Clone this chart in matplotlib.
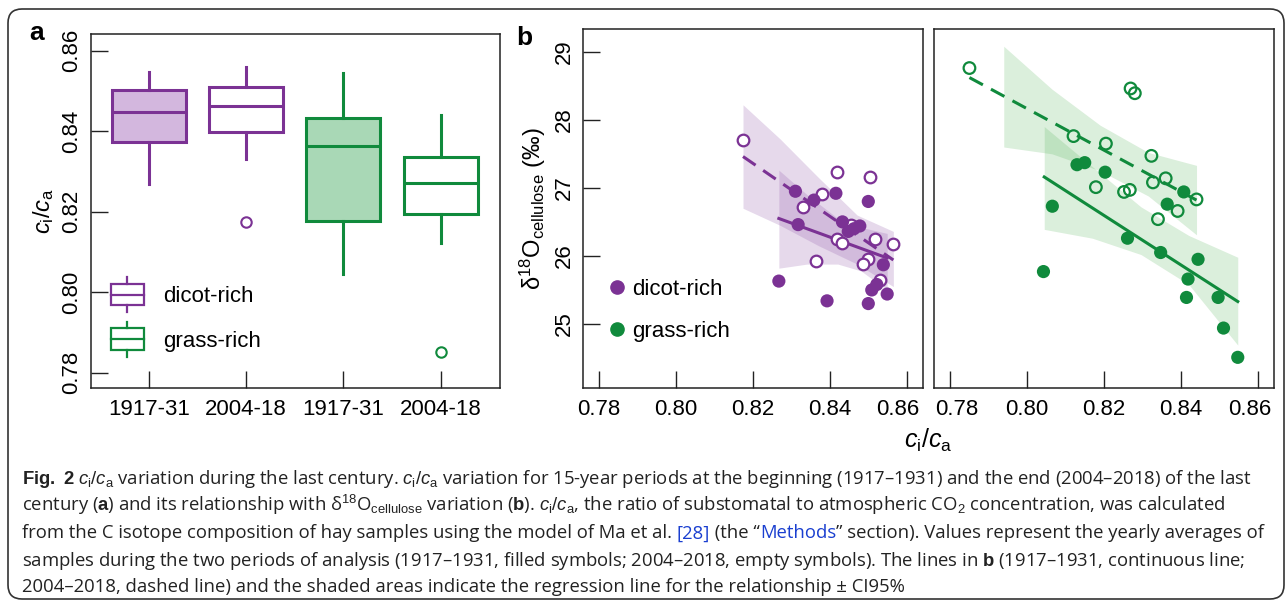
import matplotlib
matplotlib.use('Agg')
import matplotlib.pyplot as plt
from matplotlib.patches import Rectangle, FancyBboxPatch
from matplotlib.lines import Line2D
from matplotlib.legend_handler import HandlerBase
from matplotlib.transforms import IdentityTransform, ScaledTranslation

plt.rcParams['font.family'] = ['Liberation Sans', 'DejaVu Sans']
plt.rcParams['mathtext.fontset'] = 'custom'
plt.rcParams['mathtext.rm'] = 'Liberation Sans'
plt.rcParams['mathtext.it'] = 'Liberation Sans:italic'
plt.rcParams['mathtext.bf'] = 'Liberation Sans:bold'

PURPLE = '#7b3294'
GREEN = '#108a3c'
PURPLE_FILL = '#d3b7de'
GREEN_FILL = '#a9d8b6'
PURPLE_BAND = '#8e52a8'
GREEN_BAND = '#4caf50'
CAP_FONT = ['Open Sans', 'DejaVu Sans']
CAP_SIZE = 13.35

# ---- panel a: box statistics
periods = ['1917-31', '2004-18', '1917-31', '2004-18']
groups = ['dicot', 'dicot', 'grass', 'grass']
filled = [True, False, True, False]
whis_lo = [0.8268, 0.8330, 0.8044, 0.8122]
q1 = [0.8372, 0.8397, 0.8177, 0.8194]
med = [0.8447, 0.8462, 0.8364, 0.8271]
q3 = [0.8502, 0.8509, 0.8432, 0.8336]
whis_hi = [0.8546, 0.8560, 0.8545, 0.8439]
outliers = [[], [0.8174], [], [0.7851]]

# ---- panel b: yearly means (filled = 1917-31, open = 2004-18)
dicot_old_x = [0.8310, 0.8358, 0.8415, 0.8499, 0.8317, 0.8432, 0.8447, 0.8462, 0.8477, 0.8538,
               0.8267, 0.8392, 0.8499, 0.8508, 0.8521, 0.8548]
dicot_old_y = [26.95, 26.82, 26.92, 26.80, 26.46, 26.50, 26.36, 26.40, 26.44, 25.87,
               25.63, 25.34, 25.30, 25.50, 25.58, 25.44]
dicot_new_x = [0.8174, 0.8419, 0.8503, 0.8380, 0.8330, 0.8417, 0.8431, 0.8516, 0.8564, 0.8363,
               0.8499, 0.8486, 0.8529, 0.8455]
dicot_new_y = [27.70, 27.24, 27.16, 26.91, 26.72, 26.25, 26.19, 26.25, 26.17, 25.93,
               25.96, 25.88, 25.64, 26.45]
grass_old_x = [0.8130, 0.8150, 0.8203, 0.8407, 0.8364, 0.8066, 0.8261, 0.8347, 0.8444, 0.8418,
               0.8414, 0.8496, 0.8510, 0.8547, 0.8043]
grass_old_y = [27.34, 27.37, 27.23, 26.94, 26.76, 26.73, 26.26, 26.05, 25.95, 25.66,
               25.39, 25.39, 24.94, 24.51, 25.77]
grass_new_x = [0.7851, 0.8269, 0.8280, 0.8121, 0.8205, 0.8323, 0.8360, 0.8327, 0.8179, 0.8252,
               0.8267, 0.8440, 0.8391, 0.8340]
grass_new_y = [28.76, 28.46, 28.39, 27.76, 27.65, 27.47, 27.14, 27.08, 27.01, 26.94,
               26.97, 26.83, 26.66, 26.54]

# regression lines (end points) and CI95 bands
dicot_old_fit_x = [0.8267, 0.8548]
dicot_old_fit_y = [26.55, 25.97]
dicot_new_fit_x = [0.8174, 0.8564]
dicot_new_fit_y = [27.46, 25.94]
grass_old_fit_x = [0.8045, 0.8547]
grass_old_fit_y = [27.16, 25.33]
grass_new_fit_x = [0.7851, 0.8440]
grass_new_fit_y = [28.62, 26.82]

dicot_old_band_x = [0.8267, 0.834, 0.842, 0.848, 0.8548]
dicot_old_band_hi = [27.26, 26.90, 26.55, 26.42, 26.33]
dicot_old_band_lo = [25.82, 25.88, 25.88, 25.78, 25.50]
dicot_new_band_x = [0.8174, 0.827, 0.837, 0.847, 0.8564]
dicot_new_band_hi = [28.22, 27.72, 27.15, 26.60, 26.36]
dicot_new_band_lo = [26.70, 26.45, 26.15, 25.88, 25.55]
grass_old_band_x = [0.8045, 0.817, 0.8296, 0.842, 0.8547]
grass_old_band_hi = [27.90, 27.31, 26.72, 26.30, 25.98]
grass_old_band_lo = [26.39, 26.26, 26.02, 25.58, 24.69]
grass_new_band_x = [0.7940, 0.8065, 0.819, 0.8315, 0.8440]
grass_new_band_hi = [29.08, 28.45, 27.92, 27.52, 27.33]
grass_new_band_lo = [27.60, 27.50, 27.25, 26.88, 26.31]

caption = [
    r'$\mathbf{Fig.\ 2}$ $c_\mathrm{i}/c_\mathrm{a}$ variation during the last century. $c_\mathrm{i}/c_\mathrm{a}$ '
    r'variation for 15-year periods at the beginning (1917–1931) and the end (2004–2018) of the last',
    r'century ($\mathbf{a}$) and its relationship with δ$^{18}$O$_\mathrm{cellulose}$ variation ($\mathbf{b}$). '
    r'$c_\mathrm{i}/c_\mathrm{a}$, the ratio of substomatal to atmospheric CO$_2$ concentration, was calculated',
    None,
    'samples during the two periods of analysis (1917–1931, filled symbols; 2004–2018, empty symbols). '
    r'The lines in $\mathbf{b}$ (1917–1931, continuous line;',
    '2004–2018, dashed line) and the shaded areas indicate the regression line for the relationship ± CI95%',
]
caption_line3 = [('from the C isotope composition of hay samples using the model of Ma et al. ', '#222222'),
                 ('[28]', '#1a3fd0'), (' (the “', '#222222'), ('Methods', '#1a3fd0'),
                 ('” section). Values represent the yearly averages of', '#222222')]


class BoxHandler(HandlerBase):
    def create_artists(self, legend, orig_handle, xdescent, ydescent, width, height, fontsize, trans):
        col = orig_handle.get_edgecolor()
        x0 = -xdescent
        y0 = -ydescent - 0.05 * height
        h = 1.1 * height
        cx = x0 + width / 2
        box = Rectangle((x0, y0), width, h, facecolor='white', edgecolor=col, lw=1.6, transform=trans)
        m = Line2D([x0, x0 + width], [y0 + h / 2] * 2, color=col, lw=1.6, transform=trans)
        w1 = Line2D([cx, cx], [y0 + h, y0 + h + 0.33 * height], color=col, lw=1.6, transform=trans)
        w2 = Line2D([cx, cx], [y0, y0 - 0.33 * height], color=col, lw=1.6, transform=trans)
        return [box, m, w1, w2]


fig = plt.figure(figsize=(12.87, 6.03), dpi=100)

# ---------------- panel a
axa = fig.add_axes([0.0705, 0.3566, 0.3180, 0.5870])
for i in range(len(periods)):
    col = PURPLE if groups[i] == 'dicot' else GREEN
    fc = (PURPLE_FILL if groups[i] == 'dicot' else GREEN_FILL) if filled[i] else 'white'
    st = dict(med=med[i], q1=q1[i], q3=q3[i], whislo=whis_lo[i], whishi=whis_hi[i], fliers=outliers[i])
    axa.bxp([st], positions=[i + 1], widths=0.76, showcaps=False, patch_artist=True,
            boxprops=dict(facecolor=fc, edgecolor=col, linewidth=2.2),
            medianprops=dict(color=col, linewidth=2.2),
            whiskerprops=dict(color=col, linewidth=2.2),
            flierprops=dict(marker='o', markerfacecolor='none', markeredgecolor=col,
                            markersize=7.5, markeredgewidth=1.5))
axa.set_xlim(0.403, 4.61)
axa.set_ylim(0.7762, 0.8641)
axa.set_xticks(range(1, 5))
axa.set_xticklabels(periods)
axa.set_yticks([0.78, 0.80, 0.82, 0.84, 0.86])
axa.set_yticklabels(['0.78', '0.80', '0.82', '0.84', '0.86'])
axa.set_ylabel(r'$c_\mathrm{i}/c_\mathrm{a}$', fontsize=17, labelpad=4)
axa.legend([Rectangle((0, 0), 1, 1, edgecolor=PURPLE), Rectangle((0, 0), 1, 1, edgecolor=GREEN)],
           ['dicot-rich', 'grass-rich'], handler_map={Rectangle: BoxHandler()},
           loc='upper left', bbox_to_anchor=(0.049, 0.292), frameon=False, fontsize=16,
           handlelength=1.5, handleheight=1.0, handletextpad=0.85, labelspacing=1.0,
           borderpad=0, borderaxespad=0)

# ---------------- panel b
axb1 = fig.add_axes([0.4530, 0.3566, 0.2642, 0.5949])
axb2 = fig.add_axes([0.7257, 0.3566, 0.2642, 0.5949])

axb1.fill_between(dicot_old_band_x, dicot_old_band_lo, dicot_old_band_hi, color=PURPLE_BAND, alpha=0.22, lw=0)
axb1.fill_between(dicot_new_band_x, dicot_new_band_lo, dicot_new_band_hi, color=PURPLE_BAND, alpha=0.22, lw=0)
axb1.plot(dicot_old_fit_x, dicot_old_fit_y, color=PURPLE, lw=2.2)
axb1.plot(dicot_new_fit_x, dicot_new_fit_y, color=PURPLE, lw=2.2, ls=(0, (5, 3)))
axb1.scatter(dicot_new_x, dicot_new_y, s=70, facecolors='white', edgecolors=PURPLE, linewidths=1.6, zorder=3)
axb1.scatter(dicot_old_x, dicot_old_y, s=90, c=PURPLE, edgecolors='none', zorder=4)

axb2.fill_between(grass_old_band_x, grass_old_band_lo, grass_old_band_hi, color=GREEN_BAND, alpha=0.2, lw=0)
axb2.fill_between(grass_new_band_x, grass_new_band_lo, grass_new_band_hi, color=GREEN_BAND, alpha=0.2, lw=0)
axb2.plot(grass_old_fit_x, grass_old_fit_y, color=GREEN, lw=2.2)
axb2.plot(grass_new_fit_x, grass_new_fit_y, color=GREEN, lw=2.2, ls=(0, (5, 3)))
axb2.scatter(grass_new_x, grass_new_y, s=70, facecolors='none', edgecolors=GREEN, linewidths=1.6, zorder=3)
axb2.scatter(grass_old_x, grass_old_y, s=90, c=GREEN, edgecolors='none', zorder=4)

for ax in (axb1, axb2):
    ax.set_xlim(0.7759, 0.8641)
    ax.set_ylim(24.06, 29.33)
    ax.set_xticks([0.78, 0.80, 0.82, 0.84, 0.86])
    ax.set_xticklabels(['0.78', '0.80', '0.82', '0.84', '0.86'])
axb1.set_yticks([25, 26, 27, 28, 29])
axb2.set_yticks([])
axb1.set_ylabel(r'δ$^{18}$O$_\mathrm{cellulose}$ (‰)', fontsize=17, labelpad=4)
axb1.legend([Line2D([], [], marker='o', ls='none', color=PURPLE, markersize=9.5),
             Line2D([], [], marker='o', ls='none', color=GREEN, markersize=9.5)],
            ['dicot-rich', 'grass-rich'], loc='upper left', bbox_to_anchor=(0.0735, 0.305),
            frameon=False, fontsize=16, handlelength=0.8, handletextpad=0.3, labelspacing=0.97,
            borderpad=0, borderaxespad=0)

for ax in (axa, axb1, axb2):
    ax.tick_params(direction='in', length=12.5, width=1.0, labelsize=16, color='#222222')
    ax.tick_params(axis='x', pad=8)
    ax.tick_params(axis='y', pad=6)
    for t in ax.get_yticklabels():
        t.set_rotation(90)
        t.set_va('center')
    for sp in ax.spines.values():
        sp.set_linewidth(1.1)
        sp.set_color('#222222')

# the labels next to the gap between the two b panels are nudged apart, as in the figure
for lab, dx in [(axb1.get_xticklabels()[-1], -9), (axb2.get_xticklabels()[0], 7), (axb2.get_xticklabels()[-1], -8)]:
    lab.set_transform(lab.get_transform() + ScaledTranslation(dx / 100, 0, fig.dpi_scale_trans))

fig.text(0.7215, 0.27, r'$c_\mathrm{i}/c_\mathrm{a}$', fontsize=18, ha='center', va='center')
fig.text(0.0285, 0.945, 'a', fontsize=19, fontweight='bold', ha='center', va='center')
fig.text(0.4075, 0.937, 'b', fontsize=19, fontweight='bold', ha='center', va='center')

# ---------------- caption
cap_y = [0.197, 0.152, 0.107, 0.062, 0.018]
for y, line in zip(cap_y, caption):
    if line is None:
        continue
    fig.text(0.0171, y, line, fontsize=CAP_SIZE, family=CAP_FONT, color='#222222', va='baseline')
first = fig.text(0.0171, cap_y[2], caption_line3[0][0], fontsize=CAP_SIZE, family=CAP_FONT,
                 color=caption_line3[0][1], va='baseline')
pieces = []
for piece, col in caption_line3[1:]:
    t = fig.text(0, 0, piece, fontsize=CAP_SIZE, family=CAP_FONT, color=col, va='baseline',
                 transform=IdentityTransform())
    pieces.append(t)
# chain the coloured pieces of line 3 after the first one
fig.canvas.draw()
renderer = fig.canvas.get_renderer()
x_px = first.get_window_extent(renderer).x1
y_px = first.get_transform().transform(first.get_position())[1]
for t in pieces:
    t.set_position((x_px, y_px))
    x_px = t.get_window_extent(renderer).x1

fig.patches.append(FancyBboxPatch((8, 4), 1276, 590, boxstyle='round,pad=0,rounding_size=14',
                                  transform=IdentityTransform(), fill=False, ec='#333333', lw=1.2))

fig.savefig('out.png', dpi=100)
